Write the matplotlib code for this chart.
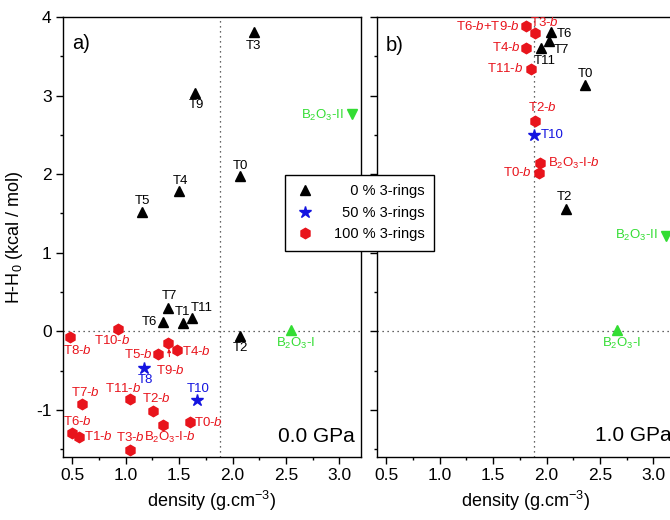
import matplotlib
matplotlib.use("Agg")
import matplotlib.pyplot as plt
from matplotlib.lines import Line2D
from matplotlib.ticker import MultipleLocator

plt.rcParams['font.family'] = ['Liberation Sans', 'DejaVu Sans']
plt.rcParams['mathtext.fontset'] = 'custom'
plt.rcParams['mathtext.rm'] = 'Liberation Sans'
plt.rcParams['mathtext.it'] = 'Liberation Sans:italic'
plt.rcParams['axes.unicode_minus'] = False

RED = '#e8141c'
BLUE = '#1414e0'
GREEN = '#33dd33'

# ---- 0.0 GPa ----
p0_names_0 = ['T0', 'T1', 'T2', 'T3', 'T4', 'T5', 'T6', 'T7', 'T9', 'T11']
p0_dens_0 = [2.07, 1.54, 2.07, 2.20, 1.50, 1.15, 1.35, 1.40, 1.65, 1.62]
p0_dh_0 = [1.98, 0.11, -0.06, 3.81, 1.78, 1.52, 0.12, 0.30, 3.03, 0.17]

p0_names_50 = ['T8', 'T10']
p0_dens_50 = [1.17, 1.67]
p0_dh_50 = [-0.47, -0.87]

p0_names_100 = ['T0-$b$', 'T1-$b$', 'T2-$b$', 'T3-$b$', 'T4-$b$', 'T5-$b$', 'T6-$b$',
                'T7-$b$', 'T8-$b$', 'T9-$b$', 'T10-$b$', 'T11-$b$', 'B$_2$O$_3$-I-$b$']
p0_dens_100 = [1.60, 0.56, 1.26, 1.04, 1.48, 1.30, 0.50, 0.59, 0.48, 1.40, 0.93, 1.04, 1.35]
p0_dh_100 = [-1.15, -1.34, -1.01, -1.51, -0.24, -0.29, -1.29, -0.92, -0.07, -0.15, 0.03, -0.86, -1.19]

p0_cryst_names = ['B$_2$O$_3$-I', 'B$_2$O$_3$-II']
p0_cryst_dens = [2.55, 3.12]
p0_cryst_dh = [0.02, 2.76]

# ---- 1.0 GPa ----
p1_names_0 = ['T0', 'T2', 'T6', 'T7', 'T11']
p1_dens_0 = [2.36, 2.18, 2.04, 2.02, 1.95]
p1_dh_0 = [3.13, 1.55, 3.81, 3.69, 3.60]

p1_names_50 = ['T10']
p1_dens_50 = [1.88]
p1_dh_50 = [2.50]

p1_names_100 = ['T6-$b$+T9-$b$', 'T3-$b$', 'T4-$b$', 'T11-$b$', 'T2-$b$', 'B$_2$O$_3$-I-$b$', 'T0-$b$']
p1_dens_100 = [1.81, 1.89, 1.81, 1.85, 1.89, 1.94, 1.93]
p1_dh_100 = [3.88, 3.80, 3.61, 3.34, 2.68, 2.14, 2.02]

p1_cryst_names = ['B$_2$O$_3$-I', 'B$_2$O$_3$-II']
p1_cryst_dens = [2.66, 3.12]
p1_cryst_dh = [0.02, 1.21]

glass_density = 1.88

# label offsets in pixels (dx, dy, ha)
lab0 = {
    'T3': (0, -14, 'center'), 'T9': (1, -12, 'center'), 'T0': (0, 10, 'center'),
    'T4': (1, 10, 'center'), 'T5': (1, 11, 'center'), 'T7': (1, 12, 'center'),
    'T6': (-6, 0, 'right'), 'T1': (-1, 11, 'center'), 'T11': (10, 10, 'center'),
    'T2': (0, -12, 'center'), 'T8': (2, -12, 'center'), 'T10': (1, 11, 'center'),
    'T8-$b$': (7, -14, 'center'), 'T10-$b$': (-6, -12, 'center'), 'T9-$b$': (2, -27, 'center'),
    'T5-$b$': (-5, 0, 'right'), 'T4-$b$': (5, -1, 'left'), 'T7-$b$': (3, 11, 'center'),
    'T11-$b$': (-7, 10, 'center'), 'T2-$b$': (3, 12, 'center'), 'T0-$b$': (4, -1, 'left'),
    'B$_2$O$_3$-I-$b$': (7, -13, 'center'), 'T6-$b$': (5, 11, 'center'),
    'T1-$b$': (5, 0, 'left'), 'T3-$b$': (0, 12, 'center'),
    'B$_2$O$_3$-I': (4, -14, 'center'), 'B$_2$O$_3$-II': (-8, -1, 'right'),
}
lab1 = {
    'T6-$b$+T9-$b$': (-6, 0, 'right'), 'T3-$b$': (10, 10, 'center'), 'T6': (6, -2, 'left'),
    'T4-$b$': (-5, 0, 'right'), 'T7': (5, -9, 'left'), 'T11': (4, -13, 'center'),
    'T11-$b$': (-7, 0, 'right'), 'T0': (0, 11, 'center'), 'T2-$b$': (8, 13, 'center'),
    'T10': (7, 0, 'left'), 'B$_2$O$_3$-I-$b$': (8, 0, 'left'), 'T0-$b$': (-7, 0, 'right'),
    'T2': (-1, 12, 'center'), 'B$_2$O$_3$-I': (5, -14, 'center'),
    'B$_2$O$_3$-II': (-8, 1, 'right'),
}

fig = plt.figure(figsize=(6.7, 5.2), dpi=100)
ax1 = fig.add_axes([62.7 / 670, 1 - 457 / 520, 298 / 670, 440 / 520])
ax2 = fig.add_axes([376.7 / 670, 1 - 457 / 520, 298 / 670, 440 / 520])


def label_points(ax, names, xs, ys, color, offsets, arrow=()):
    for n, x, y in zip(names, xs, ys):
        dx, dy, ha = offsets[n]
        if n in arrow:
            ax.annotate(n, (x, y), xytext=(dx, dy), textcoords='offset pixels',
                        ha=ha, va='center', fontsize=9.5, color=color,
                        arrowprops=dict(arrowstyle='-|>', color=color, lw=0.8,
                                        mutation_scale=5, shrinkA=3, shrinkB=4))
        else:
            ax.annotate(n, (x, y), xytext=(dx, dy), textcoords='offset pixels',
                        ha=ha, va='center', fontsize=9.5, color=color)


def panel(ax, d0, d50, d100, cr, offsets, arrow=()):
    ax.axhline(0, color='#333333', lw=0.9, ls=(0, (1, 3)), zorder=1)
    ax.axvline(glass_density, color='#333333', lw=0.9, ls=(0, (1, 3)), zorder=1)
    ax.plot(d0[1], d0[2], ls='none', marker='^', ms=7, color='black', zorder=3)
    ax.plot(d50[1], d50[2], ls='none', marker='*', ms=9, color=BLUE, zorder=3)
    ax.plot(d100[1], d100[2], ls='none', marker='h', ms=7.5, color=RED, zorder=3)
    ax.plot(cr[1][:1], cr[2][:1], ls='none', marker='^', ms=7, color=GREEN, zorder=3)
    ax.plot(cr[1][1:], cr[2][1:], ls='none', marker='v', ms=7, color=GREEN, zorder=3)
    label_points(ax, *d0, 'black', offsets)
    label_points(ax, *d50, BLUE, offsets)
    label_points(ax, *d100, RED, offsets, arrow)
    label_points(ax, *cr, GREEN, offsets)

    ax.set_xlim(0.41, 3.2)
    ax.set_ylim(-1.6, 4.0)
    ax.xaxis.set_major_locator(MultipleLocator(0.5))
    ax.xaxis.set_minor_locator(MultipleLocator(0.25))
    ax.yaxis.set_major_locator(MultipleLocator(1))
    ax.yaxis.set_minor_locator(MultipleLocator(0.5))
    ax.tick_params(which='major', direction='out', length=5, width=1, labelsize=12.5, pad=3)
    ax.tick_params(which='minor', direction='out', length=2.5, width=1)
    for s in ax.spines.values():
        s.set_linewidth(1.0)
    ax.set_xlabel('density (g.cm$^{-3}$)', fontsize=13, labelpad=4)


panel(ax1, (p0_names_0, p0_dens_0, p0_dh_0), (p0_names_50, p0_dens_50, p0_dh_50),
      (p0_names_100, p0_dens_100, p0_dh_100), (p0_cryst_names, p0_cryst_dens, p0_cryst_dh),
      lab0, arrow=('T9-$b$',))
panel(ax2, (p1_names_0, p1_dens_0, p1_dh_0), (p1_names_50, p1_dens_50, p1_dh_50),
      (p1_names_100, p1_dens_100, p1_dh_100), (p1_cryst_names, p1_cryst_dens, p1_cryst_dh),
      lab1)
ax2.tick_params(labelleft=False)
ax1.set_ylabel('H-H$_0$ (kcal / mol)', fontsize=13, labelpad=8)

ax1.text(0.031, 0.939, 'a)', transform=ax1.transAxes, fontsize=14.5, va='center', ha='left')
ax2.text(0.031, 0.935, 'b)', transform=ax2.transAxes, fontsize=14.5, va='center', ha='left')
ax1.text(0.981, 0.046, '0.0 GPa', transform=ax1.transAxes, fontsize=15, va='center', ha='right')
ax2.text(0.733, 0.048, '1.0 GPa', transform=ax2.transAxes, fontsize=15, va='center', ha='left')

handles = [Line2D([], [], ls='none', marker='^', ms=7, color='black'),
           Line2D([], [], ls='none', marker='*', ms=9, color=BLUE),
           Line2D([], [], ls='none', marker='h', ms=7.5, color=RED)]
labels = ['\u2007\u20070 % 3-rings', '\u200750 % 3-rings', '100 % 3-rings']
leg = fig.legend(handles, labels, loc='upper left', bbox_to_anchor=(285 / 670, 1 - 175 / 520),
                 borderaxespad=0, fontsize=10.5, frameon=True, fancybox=False,
                 edgecolor='black', framealpha=1, handlelength=1.5, handletextpad=1.2,
                 labelspacing=0.5, borderpad=0.65)
leg.get_frame().set_linewidth(1.0)

fig.savefig('out.png', dpi=100)
